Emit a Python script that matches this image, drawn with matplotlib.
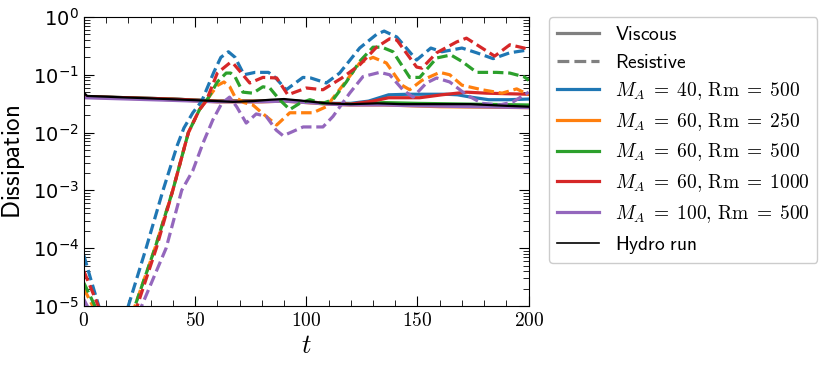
import matplotlib
matplotlib.use("Agg")
import matplotlib.pyplot as plt
from matplotlib.lines import Line2D
from matplotlib.ticker import FuncFormatter, MultipleLocator, LogLocator

plt.rcParams["mathtext.fontset"] = "cm"
plt.rcParams["axes.formatter.use_mathtext"] = True

runs = [r"$M_A\;=\;40,\,\mathrm{Rm}\;=\;500$",
        r"$M_A\;=\;60,\,\mathrm{Rm}\;=\;250$",
        r"$M_A\;=\;60,\,\mathrm{Rm}\;=\;500$",
        r"$M_A\;=\;60,\,\mathrm{Rm}\;=\;1000$",
        r"$M_A\;=\;100,\,\mathrm{Rm}\;=\;500$"]
colors = ["tab:blue", "tab:orange", "tab:green", "tab:red", "tab:purple"]

# hydro run
t_hydro = [0, 1.5, 15, 30, 45, 60, 67, 76, 84, 90, 100, 109, 120, 132, 143, 160, 174, 190, 200]
d_hydro = [0.049, 0.043, 0.041, 0.039, 0.037, 0.035, 0.034, 0.035, 0.037, 0.038, 0.035,
           0.032, 0.031, 0.032, 0.031, 0.031, 0.031, 0.029, 0.028]

# viscous dissipation
t_visc_40_500 = [0, 20, 40, 60, 80, 90, 100, 110, 120, 128, 137, 146, 155, 163, 168, 174, 182, 191, 200]
v_visc_40_500 = [0.042, 0.04, 0.038, 0.035, 0.035, 0.036, 0.034, 0.032, 0.032, 0.035, 0.045,
                 0.046, 0.046, 0.046, 0.045, 0.041, 0.037, 0.037, 0.038]
t_visc_60_250 = [0, 20, 40, 60, 80, 90, 100, 110, 120, 135, 160, 200]
v_visc_60_250 = [0.041, 0.039, 0.037, 0.034, 0.034, 0.035, 0.033, 0.031, 0.03, 0.03, 0.028, 0.027]
t_visc_60_500 = [0, 20, 40, 60, 80, 90, 100, 110, 120, 135, 150, 175, 200]
v_visc_60_500 = [0.042, 0.04, 0.038, 0.035, 0.035, 0.036, 0.034, 0.032, 0.031, 0.033, 0.032, 0.031, 0.03]
t_visc_60_1000 = [0, 20, 40, 60, 80, 90, 100, 110, 120, 130, 137, 151, 161, 172, 181, 190, 200]
v_visc_60_1000 = [0.042, 0.04, 0.038, 0.035, 0.035, 0.036, 0.034, 0.032, 0.031, 0.035, 0.04,
                  0.04, 0.045, 0.05, 0.048, 0.047, 0.046]
t_visc_100_500 = [0, 20, 40, 60, 80, 90, 100, 110, 120, 135, 150, 175, 200]
v_visc_100_500 = [0.04, 0.038, 0.036, 0.034, 0.034, 0.035, 0.033, 0.031, 0.03, 0.03, 0.029, 0.028, 0.027]

# resistive dissipation
t_res_40_500 = [0, 3, 6.7, 9, 18, 20, 28, 35.6, 42, 45, 49, 53, 58.4, 61.6, 65, 68, 72, 77, 83,
                86, 91, 98.5, 102, 109, 115, 124, 131.6, 135, 140.7, 149.6, 156, 161, 170,
                176.6, 184, 191.5, 200]
r_res_40_500 = [7.5e-5, 3e-5, 1e-5, 5e-6, 5e-6, 1e-5, 1e-4, 1e-3, 6e-3, 0.012, 0.022, 0.035,
                0.11, 0.2, 0.25, 0.2, 0.1, 0.11, 0.11, 0.09, 0.055, 0.09, 0.088, 0.072, 0.107,
                0.29, 0.5, 0.57, 0.45, 0.18, 0.29, 0.25, 0.29, 0.24, 0.19, 0.24, 0.27]
t_res_60_250 = [0, 4, 7, 20, 23, 32, 40, 47, 52, 56, 60, 63, 65.6, 68, 72, 76, 80, 86.7, 92.6,
                103, 109, 117, 124, 130, 136, 143, 146.5, 152, 160, 164.5, 170, 179, 188,
                194.6, 200]
r_res_60_250 = [2e-5, 1e-5, 5e-6, 5e-6, 1e-5, 1e-4, 1e-3, 1e-2, 0.025, 0.04, 0.065, 0.075,
                0.062, 0.041, 0.033, 0.03, 0.022, 0.0135, 0.022, 0.022, 0.028, 0.07, 0.16, 0.2,
                0.16, 0.066, 0.055, 0.08, 0.11, 0.1, 0.066, 0.055, 0.048, 0.057, 0.045]
t_res_60_500 = [0, 5, 8, 20, 23, 32, 40, 47, 52, 56, 60, 64, 66, 68, 71.5, 76, 80.5, 83.6, 88,
                92.6, 97, 101.6, 107.4, 112, 118, 124, 130, 134, 139, 146.5, 151, 158.6, 165,
                170, 176.6, 185.6, 191.5, 198, 200]
r_res_60_500 = [2.5e-5, 1e-5, 5e-6, 5e-6, 1e-5, 1e-4, 1e-3, 1e-2, 0.025, 0.04, 0.075, 0.107,
                0.107, 0.092, 0.05, 0.048, 0.062, 0.059, 0.037, 0.025, 0.032, 0.037, 0.032,
                0.037, 0.075, 0.17, 0.3, 0.3, 0.25, 0.09, 0.09, 0.195, 0.22, 0.17, 0.11, 0.11,
                0.107, 0.092, 0.08]
t_res_60_1000 = [0, 6.5, 9, 20, 24, 32.6, 40, 47, 52, 55, 60, 65.6, 67, 71.5, 74.6, 80.5, 86.7,
                 91.7, 100, 107.5, 116, 124, 131.6, 137.5, 140.7, 149.6, 152, 158.6, 167.6,
                 172, 179, 184.7, 191.5, 198, 200]
r_res_60_1000 = [4e-5, 1e-5, 5e-6, 5e-6, 1e-5, 1e-4, 1e-3, 1e-2, 0.025, 0.035, 0.107, 0.16,
                 0.16, 0.1, 0.072, 0.09, 0.088, 0.045, 0.059, 0.055, 0.088, 0.148, 0.3, 0.42,
                 0.4, 0.136, 0.13, 0.24, 0.37, 0.43, 0.29, 0.21, 0.33, 0.29, 0.27]
t_res_100_500 = [0, 1.5, 4, 22, 26, 37, 44, 49, 53.6, 58, 62, 65.5, 68.7, 73, 77.5, 82, 86.5,
                 89.6, 98.6, 107.5, 112, 119.5, 125.5, 133, 137.5, 143.4, 148, 154, 158.6,
                 164.5, 172, 179, 187, 193, 200]
r_res_100_500 = [1.3e-5, 1e-5, 5e-6, 5e-6, 1e-5, 1e-4, 1e-3, 2.2e-3, 6.6e-3, 0.0166, 0.032,
                 0.041, 0.028, 0.0146, 0.021, 0.019, 0.011, 0.0088, 0.0125, 0.0125, 0.019,
                 0.048, 0.093, 0.11, 0.1, 0.055, 0.041, 0.072, 0.088, 0.075, 0.045, 0.032,
                 0.03, 0.034, 0.05]

visc = [(t_visc_40_500, v_visc_40_500), (t_visc_60_250, v_visc_60_250),
        (t_visc_60_500, v_visc_60_500), (t_visc_60_1000, v_visc_60_1000),
        (t_visc_100_500, v_visc_100_500)]
res = [(t_res_40_500, r_res_40_500), (t_res_60_250, r_res_60_250),
       (t_res_60_500, r_res_60_500), (t_res_60_1000, r_res_60_1000),
       (t_res_100_500, r_res_100_500)]

fig = plt.figure(figsize=(8.3, 3.69), dpi=100)
ax = fig.add_axes([0.101, 0.171, 0.536, 0.783])

for (tv, vv), c in zip(visc, colors):
    ax.plot(tv, vv, color=c, lw=2.3)
for (tr, rr), c in zip(res, colors):
    ax.plot(tr, rr, color=c, lw=2.3, ls=(0, (3.3, 1.5)))
ax.plot(t_hydro, d_hydro, color="black", lw=1.6)

ax.set_yscale("log")
ax.set_xlim(0, 200)
ax.set_ylim(1e-5, 1)
ax.xaxis.set_major_locator(MultipleLocator(50))
ax.xaxis.set_minor_locator(MultipleLocator(10))
ax.xaxis.set_major_formatter(FuncFormatter(lambda v, p: r"$%d$" % v))
ax.yaxis.set_major_locator(LogLocator(base=10, numticks=10))
ax.yaxis.set_minor_locator(LogLocator(base=10, subs=range(2, 10), numticks=10))
ax.tick_params(which="both", direction="in", top=True, right=True, labelsize=14)
ax.tick_params(which="major", length=7)
ax.tick_params(which="minor", length=4)

ax.set_xlabel(r"$t$", fontsize=19, labelpad=2)
ax.set_ylabel(r"$\mathsf{Dissipation}$", fontsize=18, labelpad=4)

handles = [Line2D([], [], color="gray", lw=2.3, label=r"$\mathsf{Viscous}$"),
           Line2D([], [], color="gray", lw=2.3, ls="--", label=r"$\mathsf{Resistive}$")]
for lab, c in zip(runs, colors):
    handles.append(Line2D([], [], color=c, lw=2.3, label=lab))
handles.append(Line2D([], [], color="black", lw=1.2, label=r"$\mathsf{Hydro\ run}$"))
ax.legend(handles=handles, loc="upper left", bbox_to_anchor=(1.045, 1.0),
          borderaxespad=0, fontsize=14, labelspacing=0.45, handlelength=2.2,
          framealpha=1, edgecolor="#cccccc")

fig.savefig("out.png", dpi=100)
